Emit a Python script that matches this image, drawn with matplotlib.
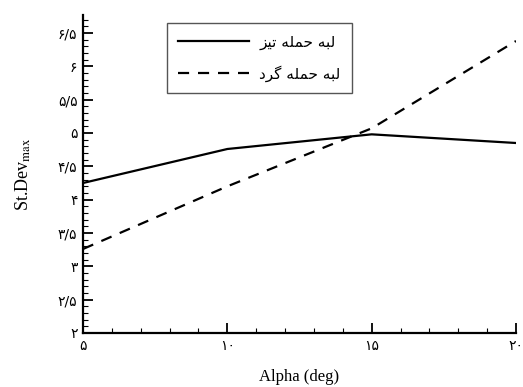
import matplotlib
matplotlib.use("Agg")
import matplotlib.pyplot as plt
from matplotlib.ticker import MultipleLocator, FixedLocator

# ---- data ----
alpha = [5, 10, 15, 20]
sharp_edge = [4.25, 4.76, 4.98, 4.85]
round_edge = [3.26, 4.20, 5.07, 6.38]

x_ticks = [5, 10, 15, 20]
x_tick_labels = ["۵", "۱۰", "۱۵", "۲۰"]
y_ticks = [2, 2.5, 3, 3.5, 4, 4.5, 5, 5.5, 6, 6.5]
y_tick_labels = ["۲", "۲/۵", "۳", "۳/۵", "۴", "۴/۵", "۵", "۵/۵", "۶", "۶/۵"]

# Persian legend labels (logical text) and visually shaped forms
label_sharp_logical = "لبه حمله تیز"
label_round_logical = "لبه حمله گرد"
# pre-shaped, visual order (left-to-right) using presentation forms
label_sharp = "\uFEB0\uFEF4\uFE97 \uFEEA\uFEE0\uFEE4\uFEA3 \uFEEA\uFE92\uFEDF"
label_round = "\uFEA9\uFEAE\uFB94 \uFEEA\uFEE0\uFEE4\uFEA3 \uFEEA\uFE92\uFEDF"

plt.rcParams["font.family"] = ["DejaVu Sans"]
plt.rcParams["mathtext.fontset"] = "stix"

W, H = 523, 387
fig = plt.figure(figsize=(W / 100, H / 100), dpi=100)
ax = fig.add_axes([83 / W, 1 - 333 / H, (516 - 83) / W, (333 - 15) / H])

ax.plot(alpha, sharp_edge, color="black", lw=1.6, label=label_sharp)
ax.plot(alpha, round_edge, color="black", lw=1.6, linestyle=(0, (5, 4)),
        label=label_round)

ax.set_xlim(5, 20)
ax.set_ylim(2, 6.77)

for s in ["top", "right"]:
    ax.spines[s].set_visible(False)
ax.spines["left"].set_linewidth(1.6)
ax.spines["bottom"].set_linewidth(1.6)

ax.xaxis.set_major_locator(FixedLocator(x_ticks))
ax.set_xticklabels(x_tick_labels)
ax.xaxis.set_minor_locator(MultipleLocator(1))
ax.yaxis.set_major_locator(FixedLocator(y_ticks))
ax.set_yticklabels(y_tick_labels)
ax.yaxis.set_minor_locator(MultipleLocator(0.1))

ax.tick_params(axis="both", which="major", direction="in", length=7, width=1.3,
               labelsize=10, pad=4)
ax.tick_params(axis="both", which="minor", direction="in", length=3.5, width=0.8)
ax.tick_params(top=False, right=False, which="both")

ax.set_xlabel("Alpha (deg)", family="Liberation Serif", fontsize=12, labelpad=12)
ax.set_ylabel(r"St.Dev$_{\mathrm{max}}$", family="Liberation Serif", fontsize=13,
              labelpad=18)

leg = ax.legend(loc="upper left",
                bbox_to_anchor=(167 / W, 1 - 23 / H),
                bbox_transform=fig.transFigure,
                frameon=True, fancybox=False, framealpha=1, edgecolor="#555555",
                fontsize=11, handlelength=4.6, handletextpad=0.7,
                borderpad=0.75, labelspacing=1.0, borderaxespad=0)
leg.get_frame().set_linewidth(1.0)

fig.savefig("out.png", dpi=100)
